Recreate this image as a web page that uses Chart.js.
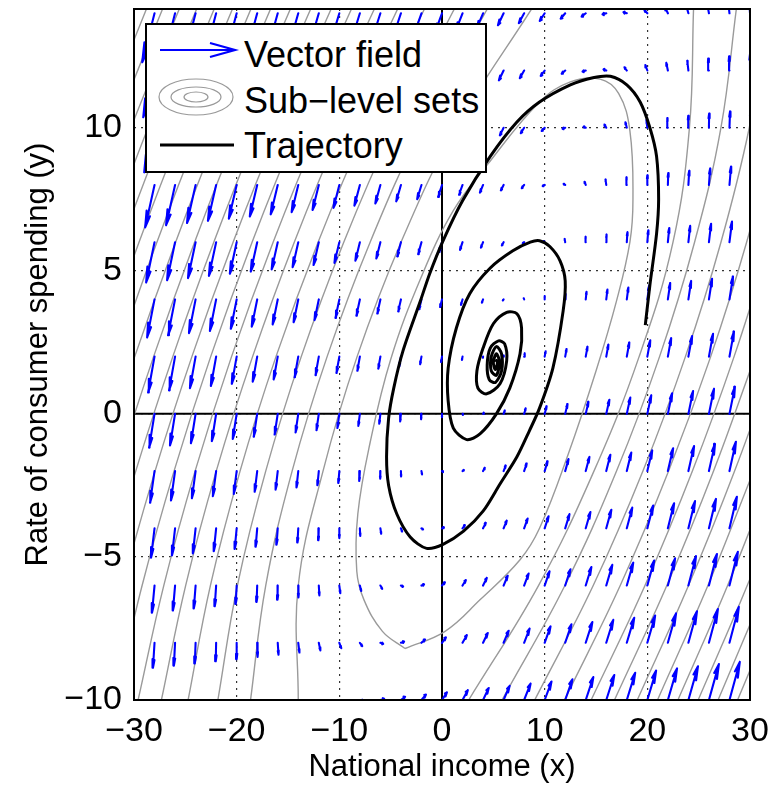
<!DOCTYPE html>
<html>
<head>
<meta charset="utf-8">
<script src="https://cdn.jsdelivr.net/npm/chart.js@4.4.0/dist/chart.umd.min.js"></script>
<style>
  body { margin: 0; background: #fff; }
  #wrap { position: relative; width: 774px; height: 786px; }
  #legend { position: absolute; left: 0; top: 0; }
</style>
</head>
<body>
<div id="wrap">
  <canvas id="chart" width="774" height="786"></canvas>
  <svg id="legend" width="774" height="200" font-family="Liberation Sans, Arial, sans-serif" font-size="36">
    <rect x="146" y="24" width="340" height="148" fill="#fff" stroke="#000" stroke-width="2"/>
    <line x1="160" y1="50" x2="234" y2="50" stroke="#0000ff" stroke-width="2.2"/>
    <polyline points="210,43 235,50 210,57" fill="none" stroke="#0000ff" stroke-width="2.2"/>
    <text x="244" y="67">Vector field</text>
    <ellipse cx="196" cy="97" rx="37" ry="18" fill="none" stroke="#999" stroke-width="1.2"/>
    <ellipse cx="196" cy="97" rx="25" ry="10" fill="none" stroke="#999" stroke-width="1.2"/>
    <ellipse cx="196" cy="97" rx="12" ry="5" fill="none" stroke="#999" stroke-width="1.2"/>
    <text x="244" y="113">Sub&#8722;level sets</text>
    <line x1="160" y1="145" x2="234" y2="145" stroke="#000" stroke-width="3"/>
    <text x="244" y="158">Trajectory</text>
  </svg>
</div>
<script>
// axes
var xTicks = [-30, -20, -10, 0, 10, 20, 30];
var yTicks = [-10, -5, 0, 5, 10];

// quiver grid
var gridX = [-30,-28,-26,-24,-22,-20,-18,-16,-14,-12,-10,-8,-6,-4,-2,0,2,4,6,8,10,12,14,16,18,20,22,24,26,28,30];
var gridY = [-10,-8,-6,-4,-2,0,2,4,6,8,10,12,14];

// arrow components (one row per gridY value)
var fieldU = [
  [-5,-3,-1,1,3,5,7,9,11,13,15,17,19,21,23,25,27,29,31,33,35,37,39,41,43,45,47,49,51,53,55],
  [-10,-8,-6,-4,-2,0,2,4,6,8,10,12,14,16,18,20,22,24,26,28,30,32,34,36,38,40,42,44,46,48,50],
  [-15,-13,-11,-9,-7,-5,-3,-1,1,3,5,7,9,11,13,15,17,19,21,23,25,27,29,31,33,35,37,39,41,43,45],
  [-20,-18,-16,-14,-12,-10,-8,-6,-4,-2,0,2,4,6,8,10,12,14,16,18,20,22,24,26,28,30,32,34,36,38,40],
  [-25,-23,-21,-19,-17,-15,-13,-11,-9,-7,-5,-3,-1,1,3,5,7,9,11,13,15,17,19,21,23,25,27,29,31,33,35],
  [-30,-28,-26,-24,-22,-20,-18,-16,-14,-12,-10,-8,-6,-4,-2,0,2,4,6,8,10,12,14,16,18,20,22,24,26,28,30],
  [-35,-33,-31,-29,-27,-25,-23,-21,-19,-17,-15,-13,-11,-9,-7,-5,-3,-1,1,3,5,7,9,11,13,15,17,19,21,23,25],
  [-40,-38,-36,-34,-32,-30,-28,-26,-24,-22,-20,-18,-16,-14,-12,-10,-8,-6,-4,-2,0,2,4,6,8,10,12,14,16,18,20],
  [-45,-43,-41,-39,-37,-35,-33,-31,-29,-27,-25,-23,-21,-19,-17,-15,-13,-11,-9,-7,-5,-3,-1,1,3,5,7,9,11,13,15],
  [-50,-48,-46,-44,-42,-40,-38,-36,-34,-32,-30,-28,-26,-24,-22,-20,-18,-16,-14,-12,-10,-8,-6,-4,-2,0,2,4,6,8,10],
  [-55,-53,-51,-49,-47,-45,-43,-41,-39,-37,-35,-33,-31,-29,-27,-25,-23,-21,-19,-17,-15,-13,-11,-9,-7,-5,-3,-1,1,3,5],
  [-60,-58,-56,-54,-52,-50,-48,-46,-44,-42,-40,-38,-36,-34,-32,-30,-28,-26,-24,-22,-20,-18,-16,-14,-12,-10,-8,-6,-4,-2,0],
  [-65,-63,-61,-59,-57,-55,-53,-51,-49,-47,-45,-43,-41,-39,-37,-35,-33,-31,-29,-27,-25,-23,-21,-19,-17,-15,-13,-11,-9,-7,-5]
];
var fieldV = [
  [-46,-42,-38,-34,-30,-26,-22,-18,-14,-10,-6,-2,2,6,10,14,18,22,26,30,34,38,42,46,50,54,58,62,66,70,74],
  [-50,-46,-42,-38,-34,-30,-26,-22,-18,-14,-10,-6,-2,2,6,10,14,18,22,26,30,34,38,42,46,50,54,58,62,66,70],
  [-54,-50,-46,-42,-38,-34,-30,-26,-22,-18,-14,-10,-6,-2,2,6,10,14,18,22,26,30,34,38,42,46,50,54,58,62,66],
  [-58,-54,-50,-46,-42,-38,-34,-30,-26,-22,-18,-14,-10,-6,-2,2,6,10,14,18,22,26,30,34,38,42,46,50,54,58,62],
  [-62,-58,-54,-50,-46,-42,-38,-34,-30,-26,-22,-18,-14,-10,-6,-2,2,6,10,14,18,22,26,30,34,38,42,46,50,54,58],
  [-66,-62,-58,-54,-50,-46,-42,-38,-34,-30,-26,-22,-18,-14,-10,-6,-2,2,6,10,14,18,22,26,30,34,38,42,46,50,54],
  [-70,-66,-62,-58,-54,-50,-46,-42,-38,-34,-30,-26,-22,-18,-14,-10,-6,-2,2,6,10,14,18,22,26,30,34,38,42,46,50],
  [-74,-70,-66,-62,-58,-54,-50,-46,-42,-38,-34,-30,-26,-22,-18,-14,-10,-6,-2,2,6,10,14,18,22,26,30,34,38,42,46],
  [-78,-74,-70,-66,-62,-58,-54,-50,-46,-42,-38,-34,-30,-26,-22,-18,-14,-10,-6,-2,2,6,10,14,18,22,26,30,34,38,42],
  [-82,-78,-74,-70,-66,-62,-58,-54,-50,-46,-42,-38,-34,-30,-26,-22,-18,-14,-10,-6,-2,2,6,10,14,18,22,26,30,34,38],
  [-86,-82,-78,-74,-70,-66,-62,-58,-54,-50,-46,-42,-38,-34,-30,-26,-22,-18,-14,-10,-6,-2,2,6,10,14,18,22,26,30,34],
  [-90,-86,-82,-78,-74,-70,-66,-62,-58,-54,-50,-46,-42,-38,-34,-30,-26,-22,-18,-14,-10,-6,-2,2,6,10,14,18,22,26,30],
  [-94,-90,-86,-82,-78,-74,-70,-66,-62,-58,-54,-50,-46,-42,-38,-34,-30,-26,-22,-18,-14,-10,-6,-2,2,6,10,14,18,22,26]
];

// trajectory, from the start point (20, 3) spiralling in
var trajX = [19.8,20.25,20.9,21.1,20.9,20.25,19.3,18.0,16.4,14.7,12.5,9.5,7.3,4.7,2.0,0.1,-1.2,-2.1,-3.8,-4.7,-5.2,-5.4,-5.2,-4.4,-3.1,-1.5,0.1,2.1,4.0,5.65,7.3,8.5,9.5,10.8,11.8,12.0,11.5,10.5,9.5,8.6,6.9,4.7,2.7,1.4,0.6,0.6,1.1,2.4,3.7,5.3,6.6,7.6,7.75,7.3,6.3,5.0,4.0,3.4,3.5,4.35,5.65,6.3,6.1,5.5,4.7,4.4,4.6,5.2,5.8,5.8,5.3,4.8,4.8,5.3,5.6,5.3,5.0,5.2,5.4,5.2];
var trajY = [3.1,4.5,6.3,7.5,9.0,10.0,10.9,11.5,11.8,11.75,11.5,10.9,10.2,9.0,7.45,6.05,4.9,3.95,2.2,0.9,-0.15,-1.5,-2.5,-3.5,-4.3,-4.7,-4.56,-4.1,-3.4,-2.45,-1.5,-0.6,0.2,1.6,3.6,4.65,5.35,5.85,6.05,6.0,5.7,5.1,4.2,3.0,1.6,0.45,-0.5,-0.9,-0.7,0.0,0.9,2.1,3.0,3.5,3.55,3.15,2.3,1.5,0.9,0.7,1.05,1.85,2.45,2.55,2.3,1.7,1.2,1.1,1.5,2.1,2.35,2.0,1.5,1.35,1.8,2.1,1.8,1.55,1.8,1.9];

// innermost sub-level set (closed curve)
var innerSetX = [-3.6,0.3,3.7,7.6,9.5,12.3,15.0,17.0,18.3,18.6,18.3,17.2,15.4,12.5,9.5,4.4,1.1,-2.0,-5.0,-7.0,-8.2,-8.3,-7.6,-5.8,-3.6];
var innerSetY = [-8.2,-7.6,-6.5,-5.1,-4.0,-1.4,1.5,3.95,6.0,7.5,9.9,11.2,11.7,11.6,10.9,8.7,7.1,4.8,1.9,-1.0,-3.5,-5.5,-6.5,-7.6,-8.2];

// outer sub-level sets: x where each set crosses the rows below (left and right side)
var contourRowY = [-10, -6, -2, 2, 6, 10, 14.15];
var contourLeftX = [
  [-14.0, -14.0, -11.59, -8.27, -3.99, 1.36, 8.72],
  [-18.65, -17.17, -14.6, -11.19, -7.0, -1.97, 4.41],
  [-21.83, -19.93, -17.17, -13.71, -9.57, -4.73, 1.2],
  [-24.73, -22.56, -19.67, -16.17, -12.07, -7.36, -1.71],
  [-27.33, -24.97, -21.99, -18.45, -14.39, -9.77, -4.32],
  [-29.6, -27.1, -24.05, -20.5, -16.45, -11.9, -6.59],
  [-31.82, -29.21, -26.1, -22.53, -18.5, -14.01, -8.82],
  [-33.79, -31.1, -27.95, -24.36, -20.35, -15.9, -10.8],
  [null, -33.02, -29.83, -26.22, -22.23, -17.82, -12.79],
  [null, -34.93, -31.7, -28.09, -24.1, -19.73, -14.77],
  [null, null, -33.55, -29.93, -25.95, -21.61, -16.7],
  [null, null, null, -31.74, -27.77, -23.46, -18.61],
  [null, null, null, -33.47, -29.51, -25.22, -20.41],
  [null, null, null, null, -31.23, -26.96, -22.19],
  [null, null, null, null, -32.88, -28.63, -23.9],
  [null, null, null, null, -34.53, -30.3, -25.59],
  [null, null, null, null, null, -31.9, -27.22],
  [null, null, null, null, null, -33.45, -28.79]
];
var contourRightX = [
  [2.6, 9.4, 14.8, 19.2, 22.5, 24.1, 24.5],
  [5.85, 11.97, 17.0, 21.19, 24.6, 27.17, 28.67],
  [9.03, 14.73, 19.57, 23.71, 27.17, 29.93, 31.88],
  [11.93, 17.36, 22.07, 26.17, 29.67, 32.56, null],
  [14.53, 19.77, 24.39, 28.45, 31.99, null, null],
  [16.8, 21.9, 26.45, 30.5, null, null, null],
  [19.02, 24.01, 28.5, 32.53, null, null, null],
  [20.99, 25.9, 30.35, null, null, null, null],
  [22.98, 27.82, 32.23, null, null, null, null],
  [24.95, 29.73, 34.1, null, null, null, null],
  [26.89, 31.61, null, null, null, null, null],
  [28.79, 33.46, null, null, null, null, null]
];

var ARROW_SCALE = 0.019, HEAD_LEN = 0.33, HEAD_W = 0.33;
var GRAY = '#9a9a9a';

function fmt(v) {
  return String(v).replace('-', '\u2212');
}

function toPoints(xs, ys) {
  return xs.map(function(x, i) { return { x: x, y: ys[i] }; })
    .filter(function(p) { return p.x !== null; });
}

// shaft plus open head for every grid point, split by null gaps
function arrowPoints() {
  var pts = [];
  gridY.forEach(function(y, j) {
    gridX.forEach(function(x, i) {
      var u = fieldU[j][i] * ARROW_SCALE;
      var v = fieldV[j][i] * ARROW_SCALE;
      var tx = x + u, ty = y + v;
      pts.push({ x: x, y: y }, { x: tx, y: ty }, { x: tx, y: null });
      pts.push({ x: tx - HEAD_LEN * (u + HEAD_W * v), y: ty - HEAD_LEN * (v - HEAD_W * u) });
      pts.push({ x: tx, y: ty });
      pts.push({ x: tx - HEAD_LEN * (u - HEAD_W * v), y: ty - HEAD_LEN * (v + HEAD_W * u) });
      pts.push({ x: tx, y: null });
    });
  });
  return pts;
}

function contourSet(label, pts) {
  return { label: label, data: pts, borderColor: GRAY, borderWidth: 1.4, tension: 0.4 };
}

var datasets = [{
  label: 'Trajectory',
  data: toPoints(trajX, trajY),
  borderColor: '#000',
  borderWidth: 3,
  tension: 0.3
}, {
  label: 'Vector field',
  data: arrowPoints(),
  borderColor: '#0000ff',
  borderWidth: 2.1,
  borderCapStyle: 'round',
  borderJoinStyle: 'round',
  spanGaps: false
}];
datasets.push(contourSet('Sub-level set 1', toPoints(innerSetX, innerSetY)));
contourLeftX.forEach(function(xs, k) {
  datasets.push(contourSet('Sub-level set ' + (k + 2) + ' left', toPoints(xs, contourRowY)));
});
contourRightX.forEach(function(xs, k) {
  datasets.push(contourSet('Sub-level set ' + (k + 2) + ' right', toPoints(xs, contourRowY)));
});

// zero lines and the full box, MATLAB style
var framePlugin = {
  id: 'frame',
  beforeDatasetsDraw: function(chart) {
    var ctx = chart.ctx, a = chart.chartArea;
    var x0 = chart.scales.x.getPixelForValue(0);
    var y0 = chart.scales.y.getPixelForValue(0);
    ctx.save();
    ctx.strokeStyle = '#000';
    ctx.lineWidth = 2;
    ctx.beginPath();
    ctx.moveTo(x0, a.top); ctx.lineTo(x0, a.bottom);
    ctx.moveTo(a.left, y0); ctx.lineTo(a.right, y0);
    ctx.stroke();
    ctx.restore();
  },
  afterDraw: function(chart) {
    var ctx = chart.ctx, a = chart.chartArea;
    ctx.save();
    ctx.strokeStyle = '#000';
    ctx.lineWidth = 2;
    ctx.strokeRect(a.left, a.top, a.right - a.left, a.bottom - a.top);
    ctx.restore();
  }
};

var font = 'Liberation Sans, Arial, sans-serif';

new Chart(document.getElementById('chart'), {
  type: 'line',
  data: { datasets: datasets },
  plugins: [framePlugin],
  options: {
    responsive: false,
    animation: false,
    elements: { point: { radius: 0 }, line: { fill: false } },
    layout: { padding: { top: 9, right: 24, left: 0, bottom: 0 } },
    plugins: { legend: { display: false }, tooltip: { enabled: false } },
    scales: {
      x: {
        type: 'linear',
        min: -30,
        max: 30,
        afterBuildTicks: function(s) { s.ticks = xTicks.map(function(v) { return { value: v }; }); },
        afterFit: function(s) { s.height = 86; s.paddingLeft = 0; s.paddingRight = 0; },
        grid: { color: '#333', lineWidth: 1.2, drawTicks: false },
        border: { display: false, dash: [2, 5] },
        ticks: { color: '#000', font: { family: font, size: 34 }, padding: 11, maxRotation: 0, callback: fmt },
        title: { display: true, text: 'National income (x)', color: '#000', font: { family: font, size: 31 }, padding: { top: 0, bottom: 0 } }
      },
      y: {
        type: 'linear',
        min: -10,
        max: 14.15,
        afterBuildTicks: function(s) { s.ticks = yTicks.map(function(v) { return { value: v }; }); },
        afterFit: function(s) { s.width = 134; s.paddingTop = 0; s.paddingBottom = 0; },
        grid: { color: '#333', lineWidth: 1.2, drawTicks: false },
        border: { display: false, dash: [2, 5] },
        ticks: { color: '#000', font: { family: font, size: 34 }, padding: 12, callback: fmt },
        title: { display: true, text: 'Rate of consumer spending (y)', color: '#000', font: { family: font, size: 31 }, padding: { top: 20, bottom: 0 } }
      }
    }
  }
});
</script>
</body>
</html>
